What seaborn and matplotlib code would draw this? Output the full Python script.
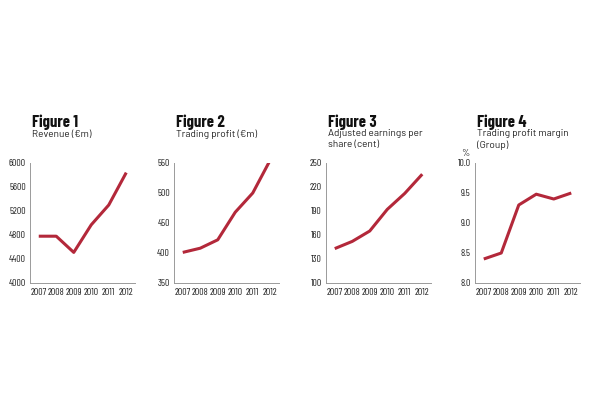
import numpy as np
import pandas as pd
import matplotlib
matplotlib.use("Agg")
import matplotlib.pyplot as plt
import seaborn as sns

years = ["2007", "2008", "2009", "2010", "2011", "2012"]

revenue = [4780, 4780, 4510, 4970, 5300, 5840]
trading_profit = [401, 408, 422, 468, 500, 555]
eps = [143, 152, 165, 192, 212, 236]
margin = [8.4, 8.5, 9.3, 9.48, 9.4, 9.5]

titles = ["Figure 1", "Figure 2", "Figure 3", "Figure 4"]
subtitles = ["Revenue (€m)", "Trading profit (€m)",
             "Adjusted earnings per\nshare (cent)", "Trading profit margin\n(Group)"]
y_ticks = [
    [4000, 4400, 4800, 5200, 5600, 6000],
    [350, 400, 450, 500, 550],
    [100, 130, 160, 190, 220, 250],
    [8.0, 8.5, 9.0, 9.5, 10.0],
]
y_fmt = ["{:.0f}", "{:.0f}", "{:.0f}", "{:.1f}"]
series = [revenue, trading_profit, eps, margin]

sns.set_style("white")
cond = ['Barlow Condensed', 'DejaVu Sans']
plain = ['Barlow', 'DejaVu Sans']
plt.rcParams['font.family'] = cond

W, H = 600, 400
fig = plt.figure(figsize=(6, 4), dpi=100)
fig.patch.set_facecolor("white")

lefts = [30, 174, 326, 475]
top, bottom, width = 163, 283, 105
line_color = "#b3283a"
axis_color = "#9a9a9a"
text_color = "#1e1e1e"

for i in range(4):
    ax = fig.add_axes([lefts[i] / W, 1 - bottom / H, width / W, (bottom - top) / H])
    df = pd.DataFrame({"year": years, "value": series[i]})
    sns.lineplot(data=df, x="year", y="value", ax=ax, color=line_color,
                 linewidth=2.2, solid_capstyle="butt")
    ax.set_xlim(-0.5, 5.5)
    ax.set_ylim(y_ticks[i][0], y_ticks[i][-1])
    ax.set_xlabel("")
    ax.set_ylabel("")
    ax.set_xticks(range(6))
    ax.set_xticklabels(years)
    ax.set_xticks(np.arange(-0.5, 6, 1), minor=True)
    ax.set_yticks(y_ticks[i])
    ax.set_yticklabels([y_fmt[i].format(v) for v in y_ticks[i]])
    ax.tick_params(axis="x", which="major", length=0, pad=3.5, labelsize=7, colors=text_color)
    ax.tick_params(axis="x", which="minor", length=2.5, direction="in", color=axis_color, width=0.7)
    ax.tick_params(axis="y", length=2, direction="out", color=axis_color, width=0.7,
                   pad=1, labelsize=7, labelcolor=text_color)
    for s in ["top", "right"]:
        ax.spines[s].set_visible(False)
    for s in ["left", "bottom"]:
        ax.spines[s].set_color(axis_color)
        ax.spines[s].set_linewidth(0.7)

    tx = (lefts[i] + 2) / W
    fig.text(tx, 1 - 127 / H, titles[i], fontsize=12, fontweight="bold",
             color="#111111", va="baseline", ha="left", family=cond)
    fig.text(tx, 1 - 129.5 / H, subtitles[i], fontsize=7.2, color=text_color,
             va="top", ha="left", linespacing=1.2, family=plain)

fig.text(465 / W, 1 - 153 / H, "%", fontsize=7, color=text_color,
         ha="center", va="center", family=plain)

fig.savefig("out.png", dpi=100, facecolor="white")
